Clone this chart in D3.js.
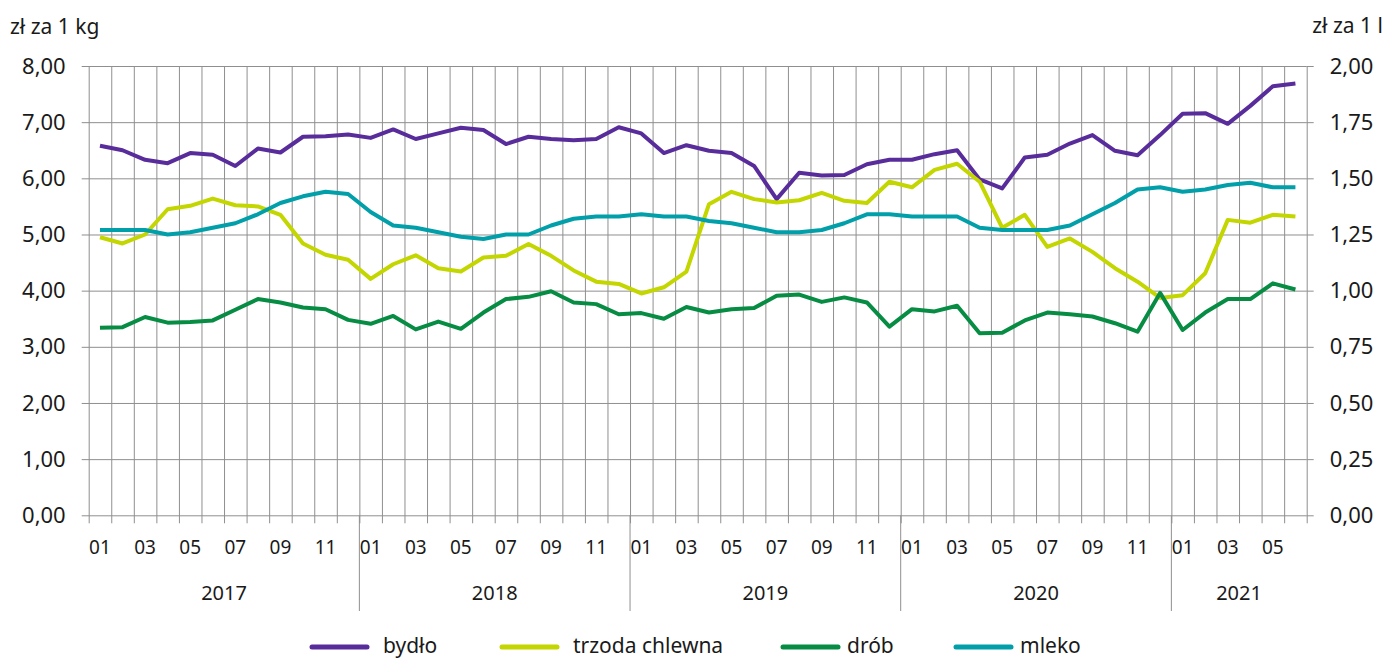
<!DOCTYPE html>
<html>
<head>
<meta charset="utf-8">
<script src="https://cdn.jsdelivr.net/npm/d3@7"></script>
<style>
	body { margin: 0; background: #fff; }
	svg text { font-family: "Noto Sans", "Open Sans", sans-serif; fill: #1a1a1a; }
</style>
</head>
<body>
<svg id="chart" width="1386" height="660"></svg>
<script>
/*jshint esversion: 6 */

// months Jan 2017 - Jun 2021
var years = ["2017", "2018", "2019", "2020", "2021"];
var monthLabels = ["01", "02", "03", "04", "05", "06", "07", "08", "09", "10", "11", "12"];
var nMonths = 54;

// zł za 1 kg (left axis)
var bydlo = [6.58, 6.50, 6.33, 6.27, 6.45, 6.42, 6.22, 6.53, 6.46, 6.74, 6.75, 6.78,
	6.72, 6.87, 6.70, 6.80, 6.90, 6.86, 6.61, 6.74, 6.70, 6.68, 6.70, 6.91,
	6.80, 6.45, 6.59, 6.49, 6.45, 6.22, 5.63, 6.10, 6.05, 6.06, 6.25, 6.33,
	6.33, 6.43, 6.50, 5.98, 5.82, 6.37, 6.42, 6.62, 6.77, 6.49, 6.41, 6.77,
	7.15, 7.16, 6.97, 7.29, 7.64, 7.69];
var trzoda = [4.95, 4.84, 5.00, 5.45, 5.51, 5.64, 5.52, 5.50, 5.35, 4.84, 4.64, 4.55,
	4.21, 4.47, 4.63, 4.40, 4.34, 4.59, 4.62, 4.83, 4.62, 4.36, 4.16, 4.12,
	3.95, 4.06, 4.34, 5.54, 5.76, 5.63, 5.57, 5.61, 5.74, 5.60, 5.56, 5.94,
	5.84, 6.15, 6.26, 5.94, 5.12, 5.35, 4.78, 4.93, 4.69, 4.40, 4.16, 3.87,
	3.92, 4.31, 5.26, 5.21, 5.35, 5.32];
var drob = [3.34, 3.35, 3.53, 3.43, 3.44, 3.47, 3.66, 3.85, 3.79, 3.70, 3.67, 3.48,
	3.41, 3.55, 3.31, 3.45, 3.32, 3.61, 3.85, 3.89, 3.99, 3.79, 3.76, 3.58,
	3.60, 3.50, 3.71, 3.61, 3.67, 3.69, 3.91, 3.93, 3.80, 3.88, 3.79, 3.36,
	3.67, 3.63, 3.73, 3.24, 3.25, 3.47, 3.61, 3.58, 3.54, 3.42, 3.27, 3.96,
	3.30, 3.61, 3.85, 3.85, 4.13, 4.02];
// zł za 1 l (right axis)
var mleko = [1.27, 1.27, 1.27, 1.25, 1.26, 1.28, 1.30, 1.34, 1.39, 1.42, 1.44, 1.43,
	1.35, 1.29, 1.28, 1.26, 1.24, 1.23, 1.25, 1.25, 1.29, 1.32, 1.33, 1.33,
	1.34, 1.33, 1.33, 1.31, 1.30, 1.28, 1.26, 1.26, 1.27, 1.30, 1.34, 1.34,
	1.33, 1.33, 1.33, 1.28, 1.27, 1.27, 1.27, 1.29, 1.34, 1.39, 1.45, 1.46,
	1.44, 1.45, 1.47, 1.48, 1.46, 1.46];

var leftTicks = [0, 1, 2, 3, 4, 5, 6, 7, 8];
var rightTicks = [0, 0.25, 0.5, 0.75, 1, 1.25, 1.5, 1.75, 2];

var seriesNames = ["bydło", "trzoda chlewna", "drób", "mleko"];
var seriesColors = ["#592c9b", "#c3d600", "#078c43", "#009fa9"];

var pLeft = 88.7, pRight = 1306.7, pTop = 66, pBottom = 515.3;
var plotW = pRight - pLeft;

var svg = d3.select("#chart");
var fmt = d3.format(".2f");
var comma = function(v) { return fmt(v).replace(".", ","); };

var xB = d3.scaleLinear().domain([0, nMonths]).range([pLeft, pRight]);
var yL = d3.scaleLinear().domain([0, 8]).range([pBottom, pTop]);
var yR = d3.scaleLinear().domain([0, 2]).range([pBottom, pTop]);

//************ GRID / AXES ************

// vertical month boundaries, with small tick below the zero line
var xGrid = d3.axisBottom(xB)
	.tickValues(d3.range(0, nMonths + 1))
	.tickSize(-(pBottom + 8 - pTop))
	.tickFormat("");
svg.append("g")
	.attr("class", "xgrid")
	.attr("transform", "translate(0," + (pBottom + 8) + ")")
	.call(xGrid);

// year separators
svg.append("g").selectAll("line")
	.data([12, 24, 36, 48])
	.join("line")
	.attr("x1", d => xB(d)).attr("x2", d => xB(d))
	.attr("y1", pBottom).attr("y2", 611)
	.attr("stroke", "#8f8f8f").attr("stroke-width", 1);

// left axis, gridlines across the plot
var yAxisL = d3.axisLeft(yL)
	.tickValues(leftTicks)
	.tickSize(plotW + 7)
	.tickPadding(16)
	.tickFormat(comma);
svg.append("g")
	.attr("class", "yl")
	.attr("transform", "translate(" + pRight + ",0)")
	.call(yAxisL);

var yAxisR = d3.axisRight(yR)
	.tickValues(rightTicks)
	.tickSize(7)
	.tickPadding(16)
	.tickFormat(comma);
svg.append("g")
	.attr("class", "yr")
	.attr("transform", "translate(" + pRight + ",0)")
	.call(yAxisR);

svg.selectAll(".domain").remove();
svg.selectAll(".xgrid line, .yl line, .yr line")
	.attr("stroke", "#8f8f8f")
	.attr("stroke-width", 1);
svg.selectAll(".yl text, .yr text")
	.style("font-size", "22px")
	.attr("fill", "#1a1a1a");

// month labels (odd months) and years
var monthIdx = d3.range(0, nMonths).filter(i => i % 2 === 0);
svg.append("g").selectAll("text")
	.data(monthIdx)
	.join("text")
	.attr("x", i => xB(i + 0.5))
	.attr("y", 554)
	.attr("text-anchor", "middle")
	.style("font-size", "19px")
	.text(i => monthLabels[i % 12]);

svg.append("g").selectAll("text")
	.data(years)
	.join("text")
	.attr("x", (d, i) => xB(Math.min(i * 12 + 6, (i * 12 + nMonths) / 2)))
	.attr("y", 600)
	.attr("text-anchor", "middle")
	.style("font-size", "20px")
	.text(d => d);

// unit labels
svg.append("text").attr("x", 10).attr("y", 34)
	.style("font-size", "21px").text("zł za 1 kg");
svg.append("text").attr("x", 1383).attr("y", 33)
	.attr("text-anchor", "end")
	.style("font-size", "21px").text("zł za 1 l");

//************ LINES ************

var lineL = d3.line().x((d, i) => xB(i + 0.5)).y(d => yL(d));
var lineR = d3.line().x((d, i) => xB(i + 0.5)).y(d => yR(d));

var series = [
	{ values: bydlo, line: lineL },
	{ values: trzoda, line: lineL },
	{ values: drob, line: lineL },
	{ values: mleko, line: lineR }
];

svg.append("g").selectAll("path")
	.data(series)
	.join("path")
	.attr("d", d => d.line(d.values))
	.attr("fill", "none")
	.attr("stroke", (d, i) => seriesColors[i])
	.attr("stroke-width", 4)
	.attr("stroke-linejoin", "round");

//************ LEGEND ************

var legendX = [312, 502, 783, 956];
var lg = svg.append("g").selectAll("g")
	.data(seriesNames)
	.join("g")
	.attr("transform", (d, i) => "translate(" + legendX[i] + ",647)");
lg.append("line")
	.attr("x1", 0).attr("x2", 55)
	.attr("stroke", (d, i) => seriesColors[i])
	.attr("stroke-width", 5)
	.attr("stroke-linecap", "round");
lg.append("text")
	.attr("x", (d, i) => i < 2 ? 71 : 64)
	.attr("y", 6)
	.style("font-size", "21px")
	.text(d => d);
</script>
</body>
</html>
